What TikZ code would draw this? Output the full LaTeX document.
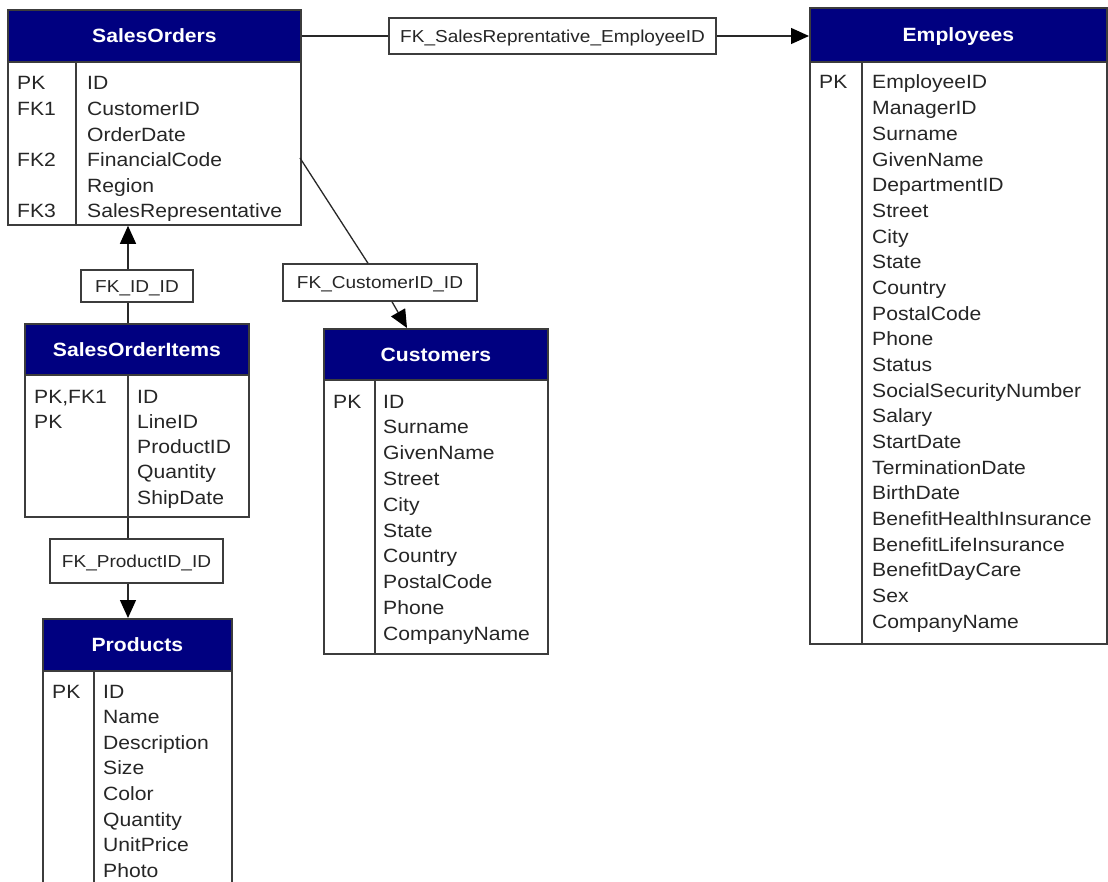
\documentclass[tikz,border=0pt]{standalone}
\usepackage{fontspec}
\usetikzlibrary{arrows.meta}
\newfontfamily\erff{Liberation Sans}[FakeStretch=1.1]
\newcommand\rfont{\erff\fontsize{19.2}{23}\selectfont}
\newcommand\hfont{\erff\bfseries\fontsize{19.2}{23}\selectfont}
\newcommand\lfont{\erff\fontsize{17.3}{21}\selectfont}
\definecolor{navyhdr}{RGB}{0,0,128}
\definecolor{boxline}{RGB}{60,60,60}
\definecolor{txtc}{RGB}{38,38,38}
\definecolor{linec}{RGB}{40,40,40}
\tikzset{
  hdr/.style={draw=boxline, fill=navyhdr, text=white, font=\hfont, line width=1.8pt,
    inner sep=0pt, anchor=north west, text height=13.6pt, text depth=0pt},
  tbody/.style={draw=boxline, fill=white, line width=1.8pt, inner sep=0pt, anchor=north west},
  divl/.style={draw=boxline, line width=1.8pt},
  rowtxt/.style={font=\rfont, text=txtc, inner sep=0pt, anchor=base west},
  fklab/.style={draw=boxline, fill=white, line width=1.4pt, font=\lfont, text=txtc,
    inner sep=0pt, text height=12.3pt, text depth=0pt},
  conn/.style={draw=linec, line width=1.3pt},
  arr/.style={conn, -{Triangle[length=18pt,width=16pt,color=black,fill=black]}},
}
\begin{document}
\begin{tikzpicture}[x=1pt,y=-1pt]
\clip (0,0) rectangle (1108,882);
\fill[white] (0,0) rectangle (1108,882);

% ---------- label boxes (nodes) ----------
\node[fklab, minimum width=327pt, minimum height=36pt] (lab1) at (552.5,36) {FK\_SalesReprentative\_EmployeeID};
\node[fklab, minimum width=112pt, minimum height=32pt] (lab2) at (137,286) {FK\_ID\_ID};
\node[fklab, minimum width=194pt, minimum height=37pt] (lab3) at (380,282.5) {FK\_CustomerID\_ID};
\node[fklab, minimum width=173pt, minimum height=44pt] (lab4) at (136.5,561) {FK\_ProductID\_ID};

% ---------- SalesOrders ----------
\node[tbody, minimum width=293pt, minimum height=163pt] (sob) at (7,61) {};
\node[hdr, minimum width=293pt, minimum height=52pt] (so) at (7,9) {SalesOrders};
\draw[divl] (76,61) -- (76,224);
\foreach \n [count=\i from 0] in {ID,CustomerID,OrderDate,FinancialCode,Region,SalesRepresentative}
  \node[rowtxt] (so-n\i) at (87,{90+25.6*\i}) {\n};
\node[rowtxt] (so-k0) at (17,90) {PK};
\node[rowtxt] (so-k1) at (17,115.6) {FK1};
\node[rowtxt] (so-k3) at (17,166.8) {FK2};
\node[rowtxt] (so-k5) at (17,218) {FK3};

% ---------- Employees ----------
\node[tbody, minimum width=297pt, minimum height=582pt] (empb) at (809,61) {};
\node[hdr, minimum width=297pt, minimum height=54pt] (emp) at (809,7) {Employees};
\draw[divl] (862,61) -- (862,643);
\foreach \n [count=\i from 0] in {EmployeeID,ManagerID,Surname,GivenName,DepartmentID,Street,City,State,Country,PostalCode,Phone,Status,SocialSecurityNumber,Salary,StartDate,TerminationDate,BirthDate,BenefitHealthInsurance,BenefitLifeInsurance,BenefitDayCare,Sex,CompanyName}
  \node[rowtxt] (emp-n\i) at (872,{89+25.67*\i}) {\n};
\node[rowtxt] (emp-k0) at (819,89) {PK};

% ---------- SalesOrderItems ----------
\node[tbody, minimum width=224pt, minimum height=142pt] (soib) at (24,374) {};
\node[hdr, minimum width=224pt, minimum height=51pt] (soi) at (24,323) {SalesOrderItems};
\draw[divl] (128,374) -- (128,516);
\foreach \n [count=\i from 0] in {ID,LineID,ProductID,Quantity,ShipDate}
  \node[rowtxt] (soi-n\i) at (137,{403+25.3*\i}) {\n};
\node[rowtxt] (soi-k0) at (34,403) {PK,FK1};
\node[rowtxt] (soi-k1) at (34,428.3) {PK};

% ---------- Customers ----------
\node[tbody, minimum width=224pt, minimum height=274pt] (cub) at (323,379) {};
\node[hdr, minimum width=224pt, minimum height=51pt] (cu) at (323,328) {Customers};
\draw[divl] (375,379) -- (375,653);
\foreach \n [count=\i from 0] in {ID,Surname,GivenName,Street,City,State,Country,PostalCode,Phone,CompanyName}
  \node[rowtxt] (cu-n\i) at (383,{408+25.8*\i}) {\n};
\node[rowtxt] (cu-k0) at (333,408) {PK};

% ---------- Products ----------
\node[tbody, minimum width=189pt, minimum height=230pt] (prb) at (42,670) {};
\node[hdr, minimum width=189pt, minimum height=52pt] (pr) at (42,618) {Products};
\draw[divl] (94,670) -- (94,900);
\foreach \n [count=\i from 0] in {ID,Name,Description,Size,Color,Quantity,UnitPrice,Photo}
  \node[rowtxt] (pr-n\i) at (103,{698+25.6*\i}) {\n};
\node[rowtxt] (pr-k0) at (52,698) {PK};

% ---------- connectors ----------
\coordinate (x2) at (128,0);
\coordinate (a3) at (300,158);
\coordinate (b3) at (368,0);
\coordinate (c3) at (392,0);
\coordinate (d3) at (407,0);
\draw[conn] (lab1.west -| so.east) -- (lab1.west);
\draw[arr] (lab1.east) -- (lab1.east -| emp.west);
\draw[conn] (x2 |- soi.north) -- (x2 |- lab2.south);
\draw[arr] (x2 |- lab2.north) -- (x2 |- sob.south);
\draw[conn] (a3) -- (b3 |- lab3.north);
\draw[arr] (c3 |- lab3.south) -- (d3 |- cu.north);
\draw[conn] (x2 |- soib.south) -- (x2 |- lab4.north);
\draw[arr] (x2 |- lab4.south) -- (x2 |- pr.north);
\end{tikzpicture}
\end{document}
